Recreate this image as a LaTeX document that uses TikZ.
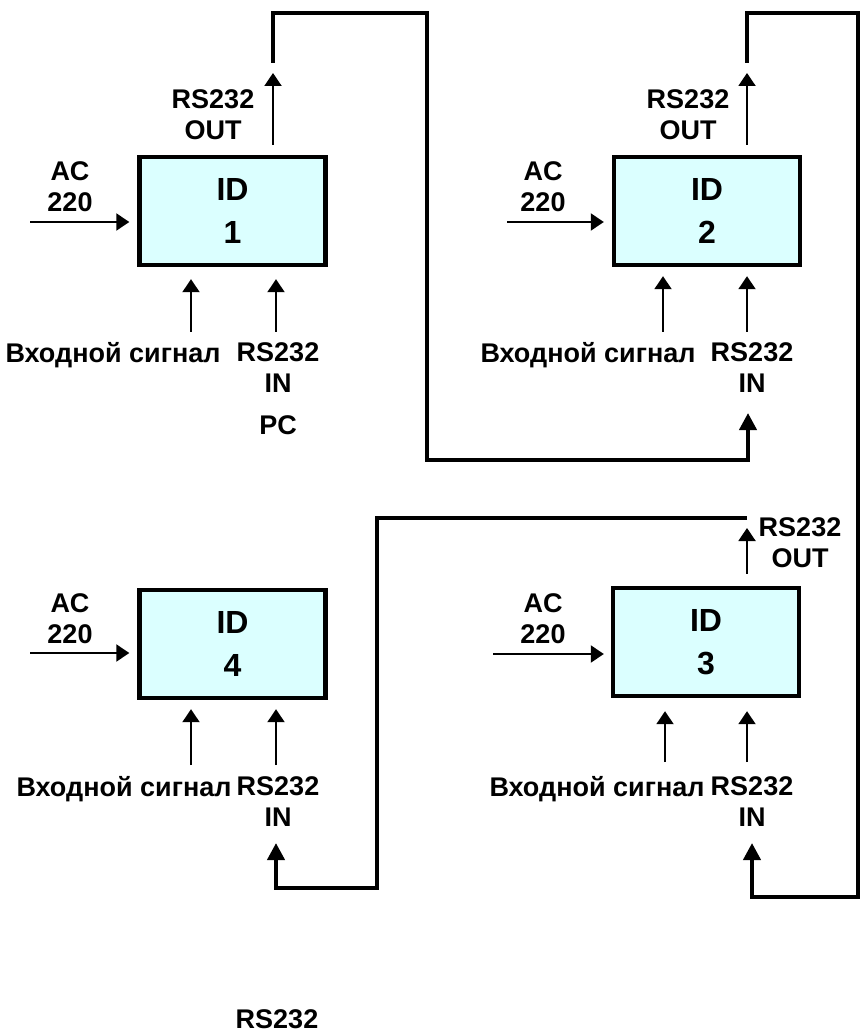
\documentclass[tikz,border=0pt]{standalone}
\usepackage{fontspec}
\setmainfont{Liberation Sans}
\usetikzlibrary{arrows.meta}
\definecolor{idfill}{RGB}{219,255,255}
\tikzset{
  idbox/.style={draw, line width=2.2pt, fill=idfill, minimum width=93pt, minimum height=54pt,
    align=center, font=\fontsize{16}{21.5}\selectfont\bfseries},
  lbl/.style={align=center, inner sep=0pt, font=\fontsize{13.5}{15.5}\selectfont\bfseries},
  sig/.style={line width=1pt, -{Triangle[length=6.5pt,width=8.5pt]}},
  bus/.style={line width=2pt, -{Triangle[length=8.5pt,width=8.5pt]}},
}
\begin{document}
\begin{tikzpicture}[x=0.5pt, y=-0.5pt]
    \useasboundingbox (0,0) rectangle (860,1031);
    % blocks
    \node[idbox] (id1) at (232.5,211) {ID\\1};
    \node[idbox] (id2) at (707,211) {ID\\2};
    \node[idbox] (id3) at (706,642) {ID\\3};
    \node[idbox] (id4) at (232.5,644) {ID\\4};
    % labels
    \node[lbl] (ac1) at (70,187) {AC\\220};
    \node[lbl] (ac2) at (543,187) {AC\\220};
    \node[lbl] (ac3) at (543,619) {AC\\220};
    \node[lbl] (ac4) at (70,619) {AC\\220};
    \node[lbl] (rso1) at (213,114.5) {RS232\\OUT};
    \node[lbl] (rso2) at (688,114.5) {RS232\\OUT};
    \node[lbl] (rso3) at (800,543) {RS232\\OUT};
    \node[lbl] (sg1) at (113,355) {Входной сигнал};
    \node[lbl] (sg2) at (588,355) {Входной сигнал};
    \node[lbl] (sg3) at (597,789) {Входной сигнал};
    \node[lbl] (sg4) at (124,789) {Входной сигнал};
    \node[lbl] (rsi1) at (278,368) {RS232\\IN};
    \node[lbl] (rsi2) at (752,368) {RS232\\IN};
    \node[lbl] (rsi3) at (752,802) {RS232\\IN};
    \node[lbl] (rsi4) at (278,802) {RS232\\IN};
    \node[lbl] (pc) at (278,425) {PC};
    \node[lbl] (rsb) at (277,1019) {RS232};
    % free ends
    \coordinate (acs1) at (30,222);
    \coordinate (acs2) at (507,222);
    \coordinate (acs3) at (493,654);
    \coordinate (acs4) at (30,653);
    \coordinate (out1) at (273,73);
    \coordinate (out2) at (747,73);
    \coordinate (out3) at (747,528);
    \coordinate (sgs1) at (191,332);
    \coordinate (ins1) at (276,332);
    \coordinate (sgs2) at (663,332);
    \coordinate (ins2) at (747,332);
    \coordinate (sgs3) at (665,762);
    \coordinate (ins3) at (747,762);
    \coordinate (sgs4) at (191,765);
    \coordinate (ins4) at (276,765);
    % AC 220
    \draw[sig, shorten >=4pt] (acs1) -- (acs1 -| id1.west);
    \draw[sig, shorten >=4pt] (acs2) -- (acs2 -| id2.west);
    \draw[sig, shorten >=3.5pt] (acs3) -- (acs3 -| id3.west);
    \draw[sig, shorten >=4pt] (acs4) -- (acs4 -| id4.west);
    % RS232 OUT
    \draw[sig, shorten <=5pt] (out1 |- id1.north) -- (out1);
    \draw[sig, shorten <=5pt] (out2 |- id2.north) -- (out2);
    \draw[sig, shorten <=6pt] (out3 |- id3.north) -- (out3);
    % inputs from below
    \draw[sig, shorten >=6pt] (sgs1) -- (sgs1 |- id1.south);
    \draw[sig, shorten >=6pt] (ins1) -- (ins1 |- id1.south);
    \draw[sig, shorten >=4.5pt] (sgs2) -- (sgs2 |- id2.south);
    \draw[sig, shorten >=4.5pt] (ins2) -- (ins2 |- id2.south);
    \draw[sig, shorten >=6.5pt] (sgs3) -- (sgs3 |- id3.south);
    \draw[sig, shorten >=6.5pt] (ins3) -- (ins3 |- id3.south);
    \draw[sig, shorten >=4.5pt] (sgs4) -- (sgs4 |- id4.south);
    \draw[sig, shorten >=4.5pt] (ins4) -- (ins4 |- id4.south);
    % RS232 chain
    \coordinate (b1) at (273,63);
    \coordinate (e2) at (748,413);
    \coordinate (b2) at (747,63);
    \coordinate (e3) at (752,843);
    \coordinate (b3) at (747,518);
    \coordinate (e4) at (276,843);
    \draw[bus] (b1) -- (b1 |- 0,13) -| (427,460) -| (e2);
    \draw[bus] (b2) -- (b2 |- 0,13) -| (858,897) -| (e3);
    \draw[bus] (b3) -| (377,888) -| (e4);
\end{tikzpicture}
\end{document}
